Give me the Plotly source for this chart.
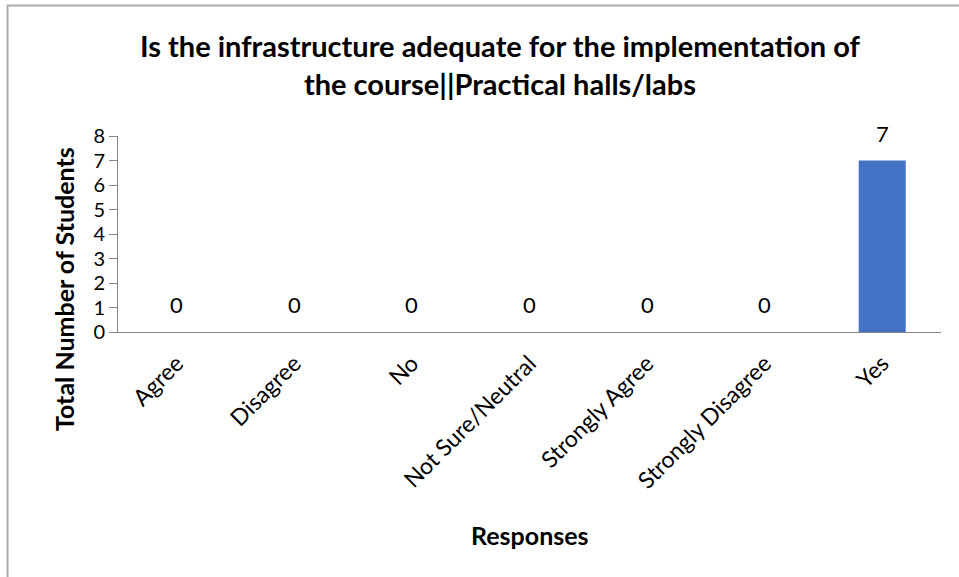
import plotly.graph_objects as go

responses = ['Agree', 'Disagree', 'No', 'Not Sure/Neutral', 'Strongly Agree',
             'Strongly Disagree', 'Yes']
students = [0, 0, 0, 0, 0, 0, 7]
y_ticks = [0, 1, 2, 3, 4, 5, 6, 7, 8]

title_text = ('Is the infrastructure adequate for the implementation of<br>'
              'the course||Practical halls/labs')

FONT = 'Lato'
AXIS_GREY = '#868686'

fig = go.Figure()

fig.add_trace(
    go.Bar(
        x=responses,
        y=students,
        marker=dict(color='#4472C4', line=dict(width=0)),
        width=0.4,
        showlegend=False,
        hoverinfo='x+y'
    )
)

# подписи значений над столбиками
for cat, val in zip(responses, students):
    fig.add_annotation(
        x=cat, y=val, text=str(val),
        showarrow=False, yanchor='bottom', yshift=12,
        font=dict(family=FONT, size=22, color='#000000')
    )

fig.update_layout(
    width=959,
    height=577,
    margin=dict(l=118, r=18, t=136, b=245),
    paper_bgcolor='white',
    plot_bgcolor='white',
    font=dict(family=FONT, color='#000000'),
)

fig.update_xaxes(
    showline=True, linecolor=AXIS_GREY, linewidth=1,
    ticks='', tickangle=-45, showgrid=False,
    tickfont=dict(family=FONT, size=23, color='#000000'),
    ticklabelstandoff=8,
)
fig.update_yaxes(
    range=[0, 8], tickvals=y_ticks,
    showline=True, linecolor=AXIS_GREY, linewidth=1,
    ticks='outside', ticklen=8, tickcolor=AXIS_GREY,
    showgrid=False, zeroline=False,
    tickfont=dict(family=FONT, size=20, color='#000000'),
)

# заголовок
fig.add_annotation(
    x=500, y=64, xref='paper', yref='paper',
    xanchor='center', yanchor='middle',
    text='<b>' + title_text + '</b>', showarrow=False,
    font=dict(family=FONT, size=29, color='#000000'),
)
# подпись оси Y
fig.add_annotation(
    x=64, y=289, xref='paper', yref='paper',
    xanchor='center', yanchor='middle',
    text='<b>Total Number of Students</b>', textangle=-90, showarrow=False,
    font=dict(family=FONT, size=25, color='#000000'),
)
# подпись оси X
fig.add_annotation(
    x=530, y=535, xref='paper', yref='paper',
    xanchor='center', yanchor='middle',
    text='<b>Responses</b>', showarrow=False,
    font=dict(family=FONT, size=25, color='#000000'),
)

# пересчёт пиксельных позиций подписей в координаты paper
pl, pw = 118, 959 - 118 - 18
pt, ph = 136, 577 - 136 - 245
for ann in fig.layout.annotations:
    if ann.xref == 'paper':
        ann.x = (ann.x - pl) / pw
        ann.y = 1 - (ann.y - pt) / ph

# рамка вокруг диаграммы (видны только левая и верхняя стороны)
fig.add_shape(
    type='rect', xref='paper', yref='paper',
    x0=(7.5 - pl) / pw, x1=(980 - pl) / pw,
    y0=1 - (600 - pt) / ph, y1=1 - (5.5 - pt) / ph,
    line=dict(color='#ABABAB', width=2), fillcolor='rgba(0,0,0,0)',
)

fig.write_html('out.html', config={'displayModeBar': False},
               post_script="document.body.style.margin='0';")
